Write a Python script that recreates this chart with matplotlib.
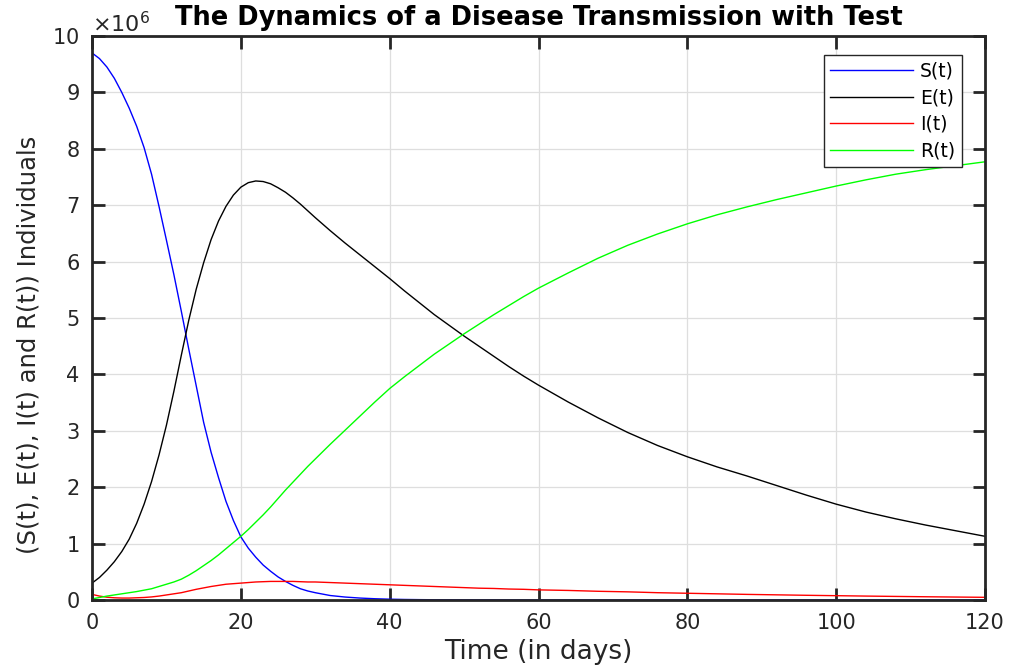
import matplotlib
matplotlib.use("Agg")
import matplotlib.pyplot as plt
from matplotlib.ticker import ScalarFormatter

plt.rcParams['font.family'] = ['DejaVu Sans']
plt.rcParams['mathtext.fontset'] = 'dejavusans'

# time grid (days)
t = list(range(0, 31)) + list(range(32, 61, 2)) + list(range(64, 121, 4))

# values in millions of individuals
S = [9.70, 9.60, 9.45, 9.25, 9.00, 8.72, 8.40, 8.02, 7.55, 6.98,
     6.38, 5.77, 5.12, 4.45, 3.80, 3.15, 2.62, 2.17, 1.75, 1.41,
     1.12, 0.92, 0.76, 0.62, 0.51, 0.41, 0.33, 0.26, 0.20, 0.16, 0.13,
     0.08, 0.053, 0.035, 0.023, 0.015, 0.010, 0.007, 0.005, 0.004, 0.003,
     0.002, 0.002, 0.001, 0.001, 0.001,
     0.001, 0.0, 0.0, 0.0, 0.0, 0.0, 0.0, 0.0, 0.0, 0.0, 0.0, 0.0, 0.0, 0.0, 0.0]
E = [0.30, 0.40, 0.53, 0.68, 0.86, 1.08, 1.36, 1.70, 2.10, 2.57,
     3.10, 3.70, 4.34, 4.96, 5.51, 5.98, 6.39, 6.72, 6.98, 7.18,
     7.32, 7.40, 7.43, 7.42, 7.38, 7.31, 7.23, 7.13, 7.02, 6.90, 6.78,
     6.55, 6.33, 6.12, 5.91, 5.70, 5.48, 5.27, 5.06, 4.87, 4.68,
     4.50, 4.32, 4.14, 3.97, 3.81,
     3.51, 3.23, 2.97, 2.74, 2.54, 2.36, 2.20, 2.03, 1.86, 1.70,
     1.56, 1.44, 1.33, 1.23, 1.13]
I = [0.10, 0.07, 0.05, 0.04, 0.035, 0.035, 0.04, 0.045, 0.055, 0.07,
     0.09, 0.11, 0.13, 0.16, 0.19, 0.215, 0.24, 0.26, 0.28, 0.29,
     0.30, 0.31, 0.32, 0.325, 0.33, 0.33, 0.33, 0.33, 0.325, 0.32, 0.32,
     0.31, 0.30, 0.29, 0.28, 0.27, 0.26, 0.25, 0.24, 0.23, 0.22,
     0.21, 0.205, 0.195, 0.19, 0.18,
     0.17, 0.155, 0.145, 0.13, 0.12, 0.11, 0.10, 0.092, 0.084, 0.077,
     0.07, 0.064, 0.058, 0.053, 0.048]
R = [0.02, 0.045, 0.07, 0.09, 0.11, 0.13, 0.15, 0.175, 0.20, 0.24,
     0.28, 0.32, 0.37, 0.44, 0.52, 0.61, 0.70, 0.80, 0.91, 1.02,
     1.13, 1.25, 1.38, 1.51, 1.65, 1.80, 1.95, 2.09, 2.23, 2.37, 2.50,
     2.76, 3.01, 3.26, 3.51, 3.75, 3.96, 4.16, 4.36, 4.54, 4.72,
     4.89, 5.06, 5.22, 5.38, 5.53,
     5.80, 6.06, 6.29, 6.49, 6.67, 6.83, 6.97, 7.10, 7.22, 7.34,
     7.45, 7.55, 7.63, 7.70, 7.77]

scale = 1e6
fig = plt.figure(figsize=(10.09, 6.72), dpi=100)
ax = fig.add_axes([0.0912, 0.1071, 0.8850, 0.8393])

ax.plot(t, [v * scale for v in S], color='#0000ff', lw=1.0, label='S(t)')
ax.plot(t, [v * scale for v in E], color='#000000', lw=1.0, label='E(t)')
ax.plot(t, [v * scale for v in I], color='#ff0000', lw=1.0, label='I(t)')
ax.plot(t, [v * scale for v in R], color='#00ff00', lw=1.0, label='R(t)')

ax.set_xlim(0, 120)
ax.set_ylim(0, 10e6)
ax.set_xticks(range(0, 121, 20))
ax.set_yticks([i * 1e6 for i in range(11)])

fmt = ScalarFormatter(useMathText=True)
fmt.set_powerlimits((6, 6))
ax.yaxis.set_major_formatter(fmt)
ax.yaxis.get_offset_text().set_fontsize(16)
ax.yaxis.get_offset_text().set_color('#262626')

ax.grid(True, color='#dedede', lw=0.9)
ax.set_axisbelow(True)
for sp in ax.spines.values():
    sp.set_linewidth(2.0)
    sp.set_color('#262626')
ax.tick_params(direction='in', length=9, width=2, top=True, right=True,
               labelsize=15, colors='#262626', pad=9)

ax.set_xlabel('Time (in days)', fontsize=19, color='#262626', labelpad=5)
ax.set_ylabel('(S(t), E(t), I(t) and R(t)) Individuals', fontsize=17.5,
              color='#262626')
ax.yaxis.set_label_coords(-0.058, 0.452)
ax.set_title('The Dynamics of a Disease Transmission with Test', fontsize=18.5,
             fontweight='bold', pad=8)

leg = ax.legend(loc='upper right', bbox_to_anchor=(0.974, 0.966), fontsize=13.5,
                handlelength=4.4, fancybox=False, framealpha=1, borderpad=0.35,
                labelspacing=0.4, handletextpad=0.4, borderaxespad=0)
leg.get_frame().set_edgecolor('#262626')
leg.get_frame().set_linewidth(1.0)

fig.savefig('out.png', dpi=100)
